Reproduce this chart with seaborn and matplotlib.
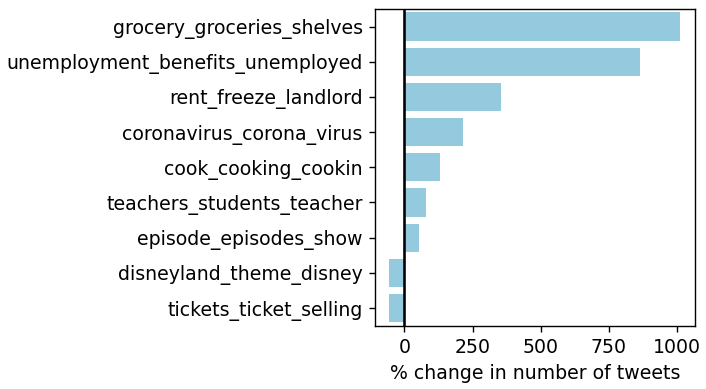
import pandas as pd
import matplotlib
matplotlib.use("Agg")
import matplotlib.pyplot as plt
import seaborn as sns

# topics and % change
topics = [
    "grocery_groceries_shelves",
    "unemployment_benefits_unemployed",
    "rent_freeze_landlord",
    "coronavirus_corona_virus",
    "cook_cooking_cookin",
    "teachers_students_teacher",
    "episode_episodes_show",
    "disneyland_theme_disney",
    "tickets_ticket_selling",
]
pct_change = [1011, 865, 353, 216, 130, 80, 53, -55, -55]

df = pd.DataFrame({"topic": topics, "change": pct_change})

plt.rcParams["font.size"] = 10.85
fig, ax = plt.subplots(figsize=(5.648, 3.112), dpi=125)
fig.subplots_adjust(left=0.531, right=0.984, top=0.977, bottom=0.163)

sns.barplot(data=df, x="change", y="topic", color="skyblue", orient="h", ax=ax)
ax.axvline(0, color="black", linewidth=1.5)
ax.set_xlabel("% change in number of tweets")
ax.set_ylabel("")
ax.set_xticks([0, 250, 500, 750, 1000])

fig.savefig("out.png", dpi=125)
